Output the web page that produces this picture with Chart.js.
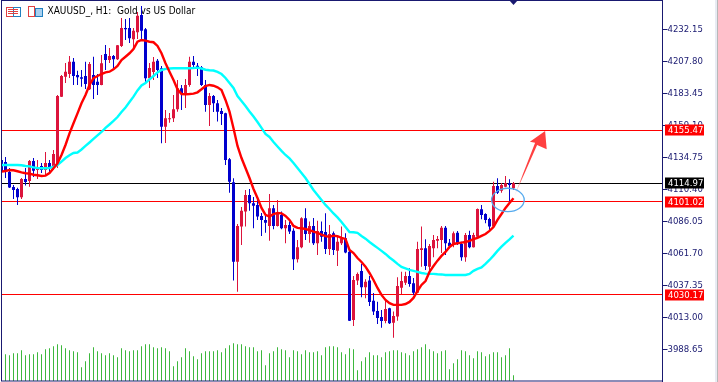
<!DOCTYPE html>
<html>
<head>
<meta charset="utf-8">
<title>XAUUSD H1</title>
<script src="https://cdn.jsdelivr.net/npm/chart.js@4/dist/chart.umd.min.js"></script>
<style>
  html, body { margin: 0; padding: 0; background: #fff; overflow: hidden; }
  #wrap { position: relative; width: 718px; height: 382px; background: linear-gradient(to right, #fff 715px, #e8ebf3 715px, #e8ebf3 717px, #b8b8b8 717px); }
  canvas { display: block; position: absolute; left: 0; top: 0; }
</style>
</head>
<body>
<div id="wrap"><canvas id="chart" width="718" height="382"></canvas></div>
<script>
const titleText = "XAUUSD_, H1:  Gold vs US Dollar";
const tickValues = [4232.15, 4207.80, 4183.45, 4159.10, 4134.75, 4110.40, 4086.05, 4061.70, 4037.35, 4013.00, 3988.65];
const redLevels = [4155.47, 4101.02, 4030.17];
const lastPrice = 4114.97;

// ten bars per row
const opens = [
  4132.7, 4131.2, 4123.6, 4112.2, 4110.6, 4104.3, 4118.3, 4116.7, 4131.9, 4125.1,
  4128.1, 4125.1, 4130.4, 4127.4, 4128.9, 4180.9, 4196.1, 4198.1, 4207.5, 4197.4,
  4195.6, 4196.6, 4186.5, 4197.4, 4192.3, 4189.8, 4213.4, 4208.8, 4211.8, 4209.3,
  4219.4, 4233.1, 4233.1, 4224.5, 4229.9, 4243.0, 4232.2, 4194.9, 4199.7, 4208.3,
  4202.5, 4158.0, 4163.7, 4164.4, 4171.3, 4187.3, 4182.9, 4189.8, 4207.5, 4204.5,
  4203.2, 4189.8, 4174.6, 4181.4, 4175.9, 4170.0, 4168.2, 4133.2, 4115.7, 4055.3,
  4082.0, 4093.4, 4106.1, 4099.8, 4098.5, 4090.1, 4087.1, 4082.5, 4096.0, 4082.5,
  4090.9, 4080.7, 4083.2, 4078.9, 4057.2, 4066.3, 4088.3, 4076.4, 4082.5, 4069.3,
  4078.7, 4077.9, 4065.0, 4076.9, 4063.7, 4069.3, 4073.1, 4062.9, 4011.0, 4040.9,
  4048.3, 4035.8, 4040.9, 4025.6, 4017.8, 4013.2, 4010.2, 4019.9, 4008.9, 4013.5,
  4035.5, 4039.3, 4044.4, 4038.9, 4031.7, 4064.2, 4065.5, 4051.5, 4065.5, 4071.3,
  4071.8, 4081.2, 4069.8, 4068.0, 4077.4, 4068.8, 4058.7, 4075.6, 4066.3, 4074.3,
  4095.2, 4091.6, 4087.8, 4082.0, 4112.9, 4109.3, 4112.4, 4115.0, 4111.2
];
const closes = [
  4123.6, 4123.6, 4111.8, 4109.9, 4104.3, 4118.3, 4116.0, 4131.9, 4124.6, 4127.4,
  4125.1, 4130.4, 4125.9, 4137.3, 4181.4, 4196.6, 4199.9, 4207.5, 4196.6, 4195.6,
  4194.6, 4190.5, 4205.8, 4189.8, 4189.8, 4206.3, 4208.8, 4211.8, 4209.3, 4220.0,
  4233.1, 4232.2, 4225.3, 4231.1, 4242.5, 4231.1, 4194.9, 4202.7, 4207.5, 4201.2,
  4158.0, 4164.4, 4164.4, 4171.3, 4187.3, 4183.5, 4189.8, 4207.5, 4205.0, 4202.9,
  4189.8, 4174.6, 4181.4, 4175.9, 4169.5, 4167.7, 4132.7, 4116.2, 4055.3, 4082.5,
  4094.1, 4106.1, 4099.8, 4097.9, 4089.6, 4087.1, 4085.0, 4096.0, 4082.5, 4092.6,
  4080.7, 4083.2, 4078.2, 4057.2, 4066.3, 4088.3, 4076.4, 4082.5, 4069.3, 4078.7,
  4074.3, 4065.0, 4076.4, 4064.2, 4070.5, 4073.1, 4062.2, 4010.4, 4041.4, 4046.0,
  4035.8, 4040.1, 4024.7, 4017.3, 4012.5, 4010.2, 4019.3, 4008.4, 4014.0, 4036.8,
  4040.6, 4044.4, 4038.4, 4031.7, 4065.0, 4065.5, 4052.0, 4067.3, 4071.8, 4072.6,
  4081.2, 4069.3, 4067.3, 4076.9, 4068.8, 4058.7, 4075.6, 4066.3, 4075.6, 4095.4,
  4090.9, 4087.1, 4082.0, 4112.9, 4107.8, 4113.7, 4115.0, 4113.7, 4114.97
];
const highs = [
  4135.0, 4135.0, 4126.6, 4113.7, 4111.6, 4119.0, 4126.6, 4132.7, 4134.2, 4132.7,
  4130.4, 4138.8, 4132.7, 4140.3, 4182.2, 4197.4, 4206.5, 4211.8, 4210.3, 4200.7,
  4201.2, 4207.5, 4207.3, 4211.3, 4198.1, 4212.6, 4220.2, 4217.9, 4212.6, 4220.2,
  4240.8, 4240.0, 4240.8, 4233.1, 4245.3, 4249.9, 4233.1, 4206.5, 4211.1, 4209.6,
  4204.2, 4170.8, 4168.5, 4182.2, 4193.6, 4189.8, 4194.3, 4211.3, 4211.8, 4206.5,
  4204.2, 4193.6, 4183.7, 4182.2, 4178.4, 4172.3, 4168.7, 4134.2, 4118.8, 4084.0,
  4096.9, 4109.9, 4110.6, 4104.6, 4102.3, 4092.4, 4090.9, 4106.8, 4098.5, 4102.3,
  4093.4, 4087.1, 4085.8, 4080.7, 4071.8, 4089.1, 4096.0, 4085.8, 4088.6, 4086.5,
  4085.8, 4092.1, 4083.2, 4078.2, 4075.6, 4082.0, 4076.9, 4064.2, 4044.4, 4047.0,
  4053.6, 4041.9, 4044.4, 4031.5, 4024.9, 4018.6, 4026.2, 4020.3, 4017.3, 4043.4,
  4047.7, 4047.7, 4050.3, 4042.9, 4070.5, 4082.0, 4072.4, 4068.8, 4075.6, 4074.9,
  4082.5, 4082.5, 4072.6, 4078.2, 4078.7, 4070.5, 4077.2, 4078.9, 4077.4, 4095.7,
  4098.5, 4092.1, 4088.8, 4116.2, 4118.8, 4115.2, 4120.5, 4118.0, 4116.0
];
const lows = [
  4115.2, 4119.0, 4111.4, 4103.0, 4098.5, 4103.0, 4113.2, 4112.4, 4119.8, 4118.3,
  4122.8, 4121.3, 4122.8, 4125.1, 4126.6, 4180.6, 4191.3, 4195.1, 4189.8, 4189.8,
  4188.5, 4186.7, 4186.0, 4179.1, 4182.2, 4189.5, 4201.2, 4206.5, 4202.7, 4208.8,
  4218.7, 4224.0, 4221.7, 4218.7, 4224.8, 4224.0, 4191.3, 4187.5, 4193.6, 4195.1,
  4145.4, 4145.6, 4161.1, 4161.6, 4169.5, 4170.8, 4172.3, 4188.5, 4202.7, 4196.6,
  4189.0, 4169.5, 4158.6, 4169.2, 4161.9, 4159.3, 4128.9, 4107.8, 4040.9, 4032.5,
  4068.0, 4082.0, 4094.1, 4080.7, 4087.1, 4074.9, 4077.4, 4071.3, 4080.0, 4082.0,
  4080.0, 4069.3, 4076.4, 4049.0, 4054.6, 4065.5, 4071.8, 4069.8, 4068.0, 4060.4,
  4070.5, 4061.2, 4060.4, 4060.4, 4052.0, 4068.0, 4061.7, 4010.2, 4006.4, 4037.6,
  4028.2, 4027.5, 4021.6, 4014.8, 4007.9, 4005.1, 4008.4, 4007.9, 3997.5, 4010.4,
  4030.7, 4037.6, 4036.3, 4030.0, 4031.5, 4051.5, 4049.0, 4046.7, 4058.7, 4065.5,
  4061.9, 4060.4, 4065.5, 4066.3, 4068.0, 4056.1, 4055.3, 4065.5, 4066.1, 4074.1,
  4087.6, 4084.5, 4078.9, 4081.5, 4106.8, 4107.8, 4111.9, 4101.0, 4109.9
];
const fastMa = [
  4123.8, 4124.3, 4125.1, 4124.9, 4124.1, 4123.3, 4122.6, 4122.3, 4121.5, 4121.1,
  4120.5, 4120.8, 4122.8, 4126.4, 4130.2, 4136.5, 4144.1, 4153.0, 4160.6, 4168.2,
  4175.9, 4182.2, 4189.8, 4194.9, 4196.6, 4198.1, 4199.4, 4199.9, 4201.7, 4204.2,
  4208.8, 4211.3, 4213.9, 4217.2, 4222.7, 4224.0, 4223.5, 4222.7, 4222.3, 4219.5,
  4213.9, 4206.3, 4199.9, 4193.6, 4186.5, 4182.9, 4182.7, 4182.9, 4183.2, 4184.2,
  4186.5, 4189.0, 4189.8, 4189.2, 4188.0, 4186.0, 4178.4, 4169.5, 4156.8, 4143.4,
  4134.2, 4126.6, 4119.0, 4110.6, 4103.8, 4096.2, 4090.9, 4089.6, 4091.6, 4092.4,
  4092.1, 4090.1, 4087.1, 4082.5, 4081.0, 4080.7, 4080.2, 4079.4, 4078.2, 4077.2,
  4075.9, 4074.7, 4074.3, 4075.1, 4074.7, 4073.4, 4072.6, 4064.2, 4061.9, 4058.1,
  4055.1, 4051.5, 4046.7, 4041.4, 4035.3, 4030.0, 4026.2, 4023.7, 4022.4, 4022.4,
  4022.4, 4023.1, 4024.7, 4027.7, 4033.0, 4037.6, 4040.6, 4047.5, 4052.0, 4056.1,
  4059.7, 4062.7, 4066.5, 4068.8, 4069.3, 4069.8, 4070.3, 4071.1, 4072.4, 4073.4,
  4074.9, 4076.4, 4078.7, 4081.7, 4087.1, 4091.6, 4096.2, 4100.0, 4103.6
];
const slowMa = [
  4128.9, 4128.9, 4128.9, 4128.9, 4128.9, 4128.7, 4128.1, 4127.8, 4127.1, 4126.6,
  4126.4, 4126.4, 4126.6, 4127.4, 4128.9, 4131.4, 4134.2, 4136.3, 4138.0, 4138.4,
  4140.7, 4143.4, 4146.0, 4148.7, 4151.4, 4154.0, 4157.1, 4159.7, 4162.4, 4165.4,
  4169.2, 4172.7, 4176.8, 4180.9, 4185.6, 4189.4, 4191.3, 4194.0, 4196.6, 4199.3,
  4201.2, 4202.0, 4202.3, 4202.5, 4202.5, 4202.5, 4202.5, 4202.5, 4202.7, 4203.0,
  4202.3, 4201.4, 4201.0, 4200.8, 4199.7, 4198.1, 4195.1, 4191.3, 4187.5, 4181.4,
  4177.6, 4173.8, 4169.6, 4165.8, 4161.6, 4157.1, 4152.5, 4150.2, 4146.4, 4143.0,
  4139.6, 4136.5, 4133.9, 4130.4, 4126.6, 4122.8, 4119.0, 4114.4, 4109.9, 4106.1,
  4102.3, 4098.5, 4095.4, 4092.0, 4089.0, 4085.5, 4081.7, 4077.9, 4077.7, 4077.2,
  4074.9, 4072.8, 4070.3, 4068.0, 4065.8, 4063.5, 4061.2, 4058.5, 4056.2, 4053.6,
  4051.3, 4050.2, 4049.0, 4048.3, 4047.5, 4046.7, 4046.2, 4046.0, 4046.0, 4045.7,
  4045.6, 4045.2, 4045.2, 4045.2, 4045.2, 4045.2, 4045.2, 4046.0, 4048.3, 4049.8,
  4050.9, 4053.6, 4056.6, 4059.9, 4063.5, 4066.7, 4069.6, 4072.2, 4075.1
];
const volumes = [
  780, 800, 770, 830, 830, 920, 770, 800, 800, 860,
  800, 950, 980, 1040, 1100, 1070, 980, 920, 890, 860,
  410, 590, 830, 1010, 890, 830, 770, 830, 770, 710,
  980, 920, 890, 920, 920, 1040, 1100, 1100, 1010, 980,
  1010, 980, 890, 440, 590, 710, 980, 890, 740, 650,
  830, 890, 890, 890, 920, 860, 980, 1070, 1130, 1100,
  1100, 1040, 1010, 1010, 890, 920, 470, 830, 890, 1010,
  950, 920, 710, 920, 890, 800, 920, 860, 860, 890,
  770, 1010, 1040, 1040, 1010, 860, 800, 980, 950, 320,
  590, 710, 860, 770, 770, 710, 860, 890, 920, 920,
  860, 830, 770, 890, 950, 1010, 1100, 950, 890, 830,
  890, 920, 350, 530, 650, 920, 890, 770, 680, 890,
  860, 740, 800, 860, 860, 710, 770, 980, 170
];

// arrow and ellipse drawn on the chart, in bar / price units
const arrowBars = [128, 133.4, 132.1, 135.9, 136.3, 133.9];
const arrowPrices = [4103.6, 4145.9, 4146.6, 4154.8, 4140.9, 4144.1];
const ringBar = 126.6, ringPrice = 4102.3, ringBars = 4.08, ringPriceSpan = 8.9;

const NAVY = "#191970", UP = "#DC143C", DOWN = "#0000CD";
const FONT_FAMILY = "'DejaVu Sans Condensed', 'DejaVu Sans', sans-serif";
const AXIS_FONT = "9.5px " + FONT_FAMILY;

const colors = opens.map((o, i) => (closes[i] >= o ? UP : DOWN));
const pts = (arr) => arr.map((y, x) => ({ x, y }));
const range = (a, b) => a.map((v, x) => ({ x, y: [v, b[x]] }));

const overlays = {
  id: "overlays",
  beforeDatasetsDraw(chart) {
    const { ctx, chartArea: a, scales: { y } } = chart;
    ctx.save();
    // price levels
    ctx.lineWidth = 1;
    redLevels.concat(lastPrice).forEach((p) => {
      const py = Math.floor(y.getPixelForValue(p)) + 0.5;
      ctx.strokeStyle = p === lastPrice ? "#000" : "#f00";
      ctx.beginPath();
      ctx.moveTo(a.left, py);
      ctx.lineTo(a.right, py);
      ctx.stroke();
    });
    // chart title and small icons
    ctx.fillStyle = "#000";
    ctx.font = "10px " + FONT_FAMILY;
    ctx.textBaseline = "middle";
    ctx.textAlign = "left";
    ctx.fillText(titleText, 47.5, 11.5);
    ctx.strokeStyle = "#e04040";
    ctx.strokeRect(6.5, 7.5, 7, 9);
    ctx.strokeRect(28.5, 6.5, 6, 10);
    ctx.strokeStyle = "#2080c0";
    ctx.strokeRect(13.5, 7.5, 7, 9);
    ctx.fillStyle = "#a8d0f0";
    ctx.fillRect(36, 9, 7, 8);
    ctx.strokeRect(35.5, 8.5, 7, 8);
    ctx.fillStyle = "#e04040";
    ctx.fillRect(8, 9, 10, 1);
    ctx.fillRect(8, 11, 10, 1);
    ctx.fillRect(8, 13, 10, 1);
    ctx.restore();
  },
  afterDraw(chart) {
    const { ctx, chartArea: a, scales: { x, y } } = chart;
    ctx.save();
    // arrow
    const px = arrowBars.map((b) => x.getPixelForValue(b));
    const py = arrowPrices.map((p) => y.getPixelForValue(p));
    const grad = ctx.createLinearGradient(px[0], py[0], px[3], py[3]);
    grad.addColorStop(0, "rgba(255,64,64,0)");
    grad.addColorStop(0.35, "#FF4040");
    grad.addColorStop(1, "#FF4040");
    ctx.fillStyle = grad;
    ctx.beginPath();
    px.forEach((v, i) => (i ? ctx.lineTo(v, py[i]) : ctx.moveTo(v, py[i])));
    ctx.closePath();
    ctx.fill();
    // ellipse round the last bars
    ctx.strokeStyle = "#55AAEE";
    ctx.lineWidth = 1.3;
    ctx.beginPath();
    ctx.ellipse(
      x.getPixelForValue(ringBar), y.getPixelForValue(ringPrice),
      x.getPixelForValue(ringBars) - x.getPixelForValue(0),
      y.getPixelForValue(ringPrice) - y.getPixelForValue(ringPrice + ringPriceSpan),
      0, 0, Math.PI * 2
    );
    ctx.stroke();
    // frame and shift marker
    ctx.lineWidth = 1;
    ctx.strokeStyle = NAVY;
    ctx.strokeRect(a.left, a.top + 0.5, a.right - a.left, a.bottom - a.top - 0.5);
    const mx = x.getPixelForValue(opens.length - 1);
    ctx.fillStyle = NAVY;
    ctx.beginPath();
    ctx.moveTo(mx - 4.5, 0);
    ctx.lineTo(mx + 4.5, 0);
    ctx.lineTo(mx, 5);
    ctx.closePath();
    ctx.fill();
    // price tags over the axis labels
    ctx.font = AXIS_FONT;
    ctx.textBaseline = "middle";
    ctx.textAlign = "left";
    redLevels.concat(lastPrice).forEach((p) => {
      const py2 = Math.round(y.getPixelForValue(p));
      ctx.fillStyle = p === lastPrice ? "#000" : "#f00";
      ctx.fillRect(665, py2 - 5.5, 39, 11);
      ctx.fillStyle = "#fff";
      ctx.fillText(p.toFixed(2), 668, py2 + 0.5);
    });
    ctx.restore();
  },
};

const barOpts = { grouped: false, borderWidth: 0, inflateAmount: 0 };

new Chart(document.getElementById("chart"), {
  type: "bar",
  data: {
    datasets: [
      { type: "line", data: pts(fastMa), borderColor: "#FF0000", borderWidth: 2.4, pointRadius: 0, tension: 0, order: 0 },
      { type: "line", data: pts(slowMa), borderColor: "#00FFFF", borderWidth: 2.4, pointRadius: 0, tension: 0, order: 1 },
      { data: range(opens, closes), backgroundColor: colors, barThickness: 3, order: 2, ...barOpts },
      { data: range(lows, highs), backgroundColor: colors, barThickness: 1, order: 3, ...barOpts },
      { data: pts(volumes), yAxisID: "yv", backgroundColor: "#3DB83D", barThickness: 1, order: 4, ...barOpts },
    ],
  },
  options: {
    responsive: false,
    animation: false,
    layout: { padding: { left: 1.5, right: 0, top: 0, bottom: 1 } },
    plugins: { legend: { display: false }, tooltip: { enabled: false }, title: { display: false } },
    scales: {
      x: { type: "linear", min: 0, max: 165.25, offset: false, display: false },
      y: {
        position: "right",
        min: 3964.5,
        max: 4254.45,
        afterFit: (s) => { s.width = 55.5; s.paddingTop = 0; s.paddingBottom = 0; },
        afterBuildTicks: (s) => { s.ticks = tickValues.map((value) => ({ value })); },
        border: { color: NAVY, width: 1 },
        grid: { drawOnChartArea: false, drawTicks: true, tickLength: 5, color: NAVY },
        ticks: {
          autoSkip: false,
          padding: 0,
          color: NAVY,
          font: { family: FONT_FAMILY, size: 9.5 },
          crossAlign: "near",
          callback: (v) => Number(v).toFixed(2),
        },
      },
      yv: { display: false, min: 0, max: 11430 },
    },
  },
  plugins: [overlays],
});
</script>
</body>
</html>
